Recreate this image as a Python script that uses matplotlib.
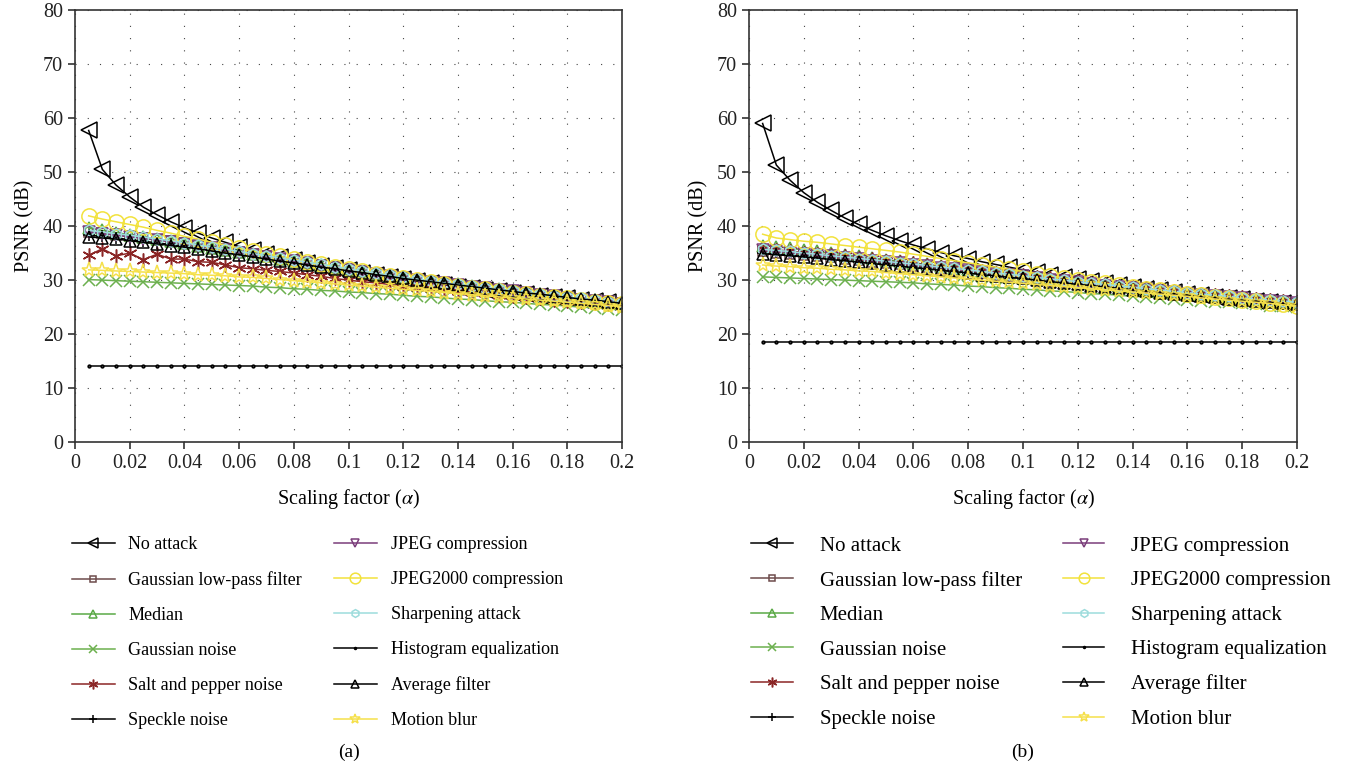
import matplotlib
matplotlib.use("Agg")
import matplotlib.pyplot as plt
from matplotlib.ticker import FormatStrFormatter

plt.rcParams['font.family'] = ['Liberation Serif', 'DejaVu Serif']
plt.rcParams['mathtext.fontset'] = 'stix'

# ==========================================
# DATA
# ==========================================
alpha = [0.005, 0.01, 0.015, 0.02, 0.025, 0.03, 0.035, 0.04, 0.045, 0.05,
         0.055, 0.06, 0.065, 0.07, 0.075, 0.08, 0.085, 0.09, 0.095, 0.1,
         0.105, 0.11, 0.115, 0.12, 0.125, 0.13, 0.135, 0.14, 0.145, 0.15,
         0.155, 0.16, 0.165, 0.17, 0.175, 0.18, 0.185, 0.19, 0.195, 0.2]

attack_names = ["No attack", "Gaussian low-pass filter", "Median", "Gaussian noise",
                "Salt and pepper noise", "Speckle noise", "JPEG compression",
                "JPEG2000 compression", "Sharpening attack", "Histogram equalization",
                "Average filter", "Motion blur"]

# ---- panel (a) ----
a_no_attack = [57.7, 50.5, 47.6, 45.4, 43.5, 42.1, 40.8, 39.7, 38.7, 37.8,
               37.0, 36.2, 35.5, 34.9, 34.3, 33.7, 33.2, 32.7, 32.2, 31.8,
               31.3, 30.9, 30.5, 30.2, 29.8, 29.5, 29.1, 28.8, 28.5, 28.2,
               27.9, 27.7, 27.4, 27.1, 26.9, 26.7, 26.4, 26.2, 26.0, 25.8]
a_gauss_lpf = [39.0, 38.7, 38.4, 38.1, 37.8, 37.5, 37.2, 36.8, 36.4, 36.0,
               35.6, 35.2, 34.8, 34.4, 34.0, 33.6, 33.2, 32.8, 32.4, 32.0,
               31.6, 31.2, 30.8, 30.4, 30.1, 29.7, 29.4, 29.1, 28.8, 28.5,
               28.2, 27.9, 27.6, 27.3, 27.0, 26.7, 26.5, 26.2, 25.9, 25.7]
a_median = [39.6, 39.2, 38.8, 38.4, 38.0, 37.6, 37.2, 36.8, 36.4, 36.0,
            35.6, 35.2, 34.8, 34.4, 34.0, 33.6, 33.2, 32.8, 32.4, 32.0,
            31.6, 31.2, 30.8, 30.5, 30.1, 29.8, 29.5, 29.2, 28.9, 28.6,
            28.3, 28.0, 27.7, 27.4, 27.1, 26.8, 26.5, 26.3, 26.0, 25.8]
a_gauss_noise = [30.1, 30.0, 29.9, 29.8, 29.7, 29.6, 29.5, 29.4, 29.3, 29.2,
                 29.1, 29.0, 28.9, 28.7, 28.6, 28.4, 28.3, 28.1, 28.0, 27.8,
                 27.7, 27.5, 27.4, 27.2, 27.0, 26.9, 26.7, 26.5, 26.4, 26.2,
                 26.0, 25.9, 25.7, 25.5, 25.4, 25.2, 25.0, 24.9, 24.7, 24.5]
a_salt_pepper = [34.6, 35.8, 34.5, 35.0, 33.8, 34.8, 33.9, 33.9, 33.4, 33.3,
                 32.8, 32.3, 32.1, 31.8, 31.6, 31.3, 31.0, 30.7, 30.3, 30.0,
                 29.7, 29.5, 29.2, 28.9, 28.7, 28.5, 28.3, 28.0, 27.8, 27.6,
                 27.3, 27.1, 26.9, 26.7, 26.4, 26.2, 26.0, 25.8, 25.6, 25.4]
a_speckle = [38.3, 38.1, 37.8, 37.5, 37.2, 36.9, 36.6, 36.3, 35.9, 35.5,
             35.1, 34.7, 34.3, 33.9, 33.5, 33.1, 32.7, 32.3, 31.9, 31.6,
             31.2, 30.8, 30.5, 30.1, 29.8, 29.5, 29.2, 28.9, 28.6, 28.3,
             28.0, 27.7, 27.4, 27.1, 26.8, 26.6, 26.3, 26.0, 25.8, 25.5]
a_jpeg = [38.9, 38.6, 38.3, 38.0, 37.7, 37.4, 37.1, 36.7, 36.3, 35.9,
          35.5, 35.1, 34.7, 34.3, 33.9, 33.5, 33.1, 32.7, 32.3, 31.9,
          31.5, 31.1, 30.7, 30.4, 30.0, 29.7, 29.4, 29.1, 28.8, 28.5,
          28.2, 27.9, 27.6, 27.3, 27.0, 26.7, 26.4, 26.2, 25.9, 25.6]
a_jpeg2000 = [41.9, 41.3, 40.8, 40.3, 39.8, 39.2, 38.7, 38.1, 37.6, 37.0,
              36.5, 35.9, 35.4, 34.9, 34.4, 33.9, 33.4, 33.0, 32.5, 32.1,
              31.6, 31.2, 30.8, 30.4, 30.0, 29.7, 29.3, 29.0, 28.6, 28.3,
              28.0, 27.7, 27.4, 27.1, 26.8, 26.6, 26.3, 26.0, 25.8, 25.5]
a_sharpening = [39.2, 38.9, 38.6, 38.3, 38.0, 37.6, 37.3, 36.9, 36.5, 36.1,
                35.7, 35.3, 34.9, 34.5, 34.1, 33.7, 33.3, 32.9, 32.5, 32.1,
                31.7, 31.3, 30.9, 30.5, 30.2, 29.8, 29.5, 29.2, 28.9, 28.6,
                28.3, 28.0, 27.7, 27.4, 27.1, 26.8, 26.6, 26.3, 26.0, 25.8]
a_hist_eq = [14.1] * len(alpha)
a_average = [38.0, 37.8, 37.6, 37.3, 37.0, 36.7, 36.4, 36.1, 35.8, 35.4,
             35.0, 34.7, 34.3, 33.9, 33.5, 33.2, 32.8, 32.4, 32.1, 31.7,
             31.4, 31.0, 30.7, 30.3, 30.0, 29.7, 29.4, 29.1, 28.8, 28.5,
             28.2, 27.9, 27.6, 27.4, 27.1, 26.8, 26.5, 26.3, 26.0, 25.7]
a_motion_blur = [31.9, 31.8, 31.7, 31.6, 31.5, 31.4, 31.3, 31.2, 31.0, 30.9,
                 30.8, 30.6, 30.5, 30.3, 30.1, 29.9, 29.7, 29.5, 29.3, 29.1,
                 28.9, 28.7, 28.5, 28.3, 28.1, 27.9, 27.7, 27.5, 27.3, 27.1,
                 26.9, 26.7, 26.5, 26.3, 26.1, 25.9, 25.7, 25.5, 25.3, 25.1]

# ---- panel (b) ----
b_no_attack = [59.0, 51.3, 48.5, 46.2, 44.4, 42.9, 41.5, 40.3, 39.2, 38.2,
               37.3, 36.5, 35.8, 35.1, 34.5, 34.0, 33.4, 32.9, 32.4, 31.9,
               31.5, 31.0, 30.6, 30.2, 29.8, 29.4, 29.1, 28.7, 28.4, 28.1,
               27.8, 27.5, 27.2, 26.9, 26.7, 26.5, 26.2, 26.0, 25.8, 25.6]
b_gauss_lpf = [35.3, 35.1, 34.9, 34.7, 34.4, 34.2, 33.9, 33.7, 33.4, 33.2,
               32.9, 32.6, 32.4, 32.1, 31.8, 31.6, 31.3, 31.0, 30.7, 30.5,
               30.2, 29.9, 29.6, 29.4, 29.1, 28.8, 28.6, 28.3, 28.1, 27.8,
               27.6, 27.3, 27.1, 26.8, 26.6, 26.4, 26.1, 25.9, 25.7, 25.5]
b_median = [36.4, 36.2, 35.9, 35.6, 35.3, 35.0, 34.7, 34.4, 34.1, 33.8,
            33.5, 33.2, 32.9, 32.6, 32.3, 32.0, 31.7, 31.4, 31.1, 30.9,
            30.6, 30.3, 30.0, 29.8, 29.5, 29.2, 29.0, 28.7, 28.5, 28.2,
            28.0, 27.7, 27.5, 27.2, 27.0, 26.8, 26.5, 26.3, 26.1, 25.9]
b_gauss_noise = [30.6, 30.5, 30.4, 30.3, 30.2, 30.1, 30.0, 29.9, 29.8, 29.7,
                 29.6, 29.5, 29.3, 29.2, 29.1, 28.9, 28.8, 28.6, 28.5, 28.3,
                 28.2, 28.0, 27.9, 27.7, 27.5, 27.4, 27.2, 27.0, 26.9, 26.7,
                 26.5, 26.4, 26.2, 26.0, 25.9, 25.7, 25.5, 25.3, 25.2, 25.0]
b_salt_pepper = [35.8, 35.6, 35.4, 35.1, 34.9, 34.6, 34.4, 34.1, 33.9, 33.6,
                 33.3, 33.1, 32.8, 32.5, 32.3, 32.0, 31.7, 31.4, 31.2, 30.9,
                 30.6, 30.3, 30.0, 29.8, 29.5, 29.2, 29.0, 28.7, 28.5, 28.2,
                 28.0, 27.7, 27.5, 27.2, 27.0, 26.8, 26.5, 26.3, 26.1, 25.9]
b_speckle = [35.0, 34.8, 34.6, 34.4, 34.1, 33.9, 33.6, 33.4, 33.1, 32.9,
             32.6, 32.4, 32.1, 31.9, 31.6, 31.4, 31.1, 30.8, 30.6, 30.3,
             30.0, 29.8, 29.5, 29.3, 29.0, 28.7, 28.5, 28.2, 28.0, 27.7,
             27.5, 27.2, 27.0, 26.8, 26.5, 26.3, 26.1, 25.9, 25.6, 25.4]
b_jpeg = [35.5, 35.3, 35.1, 34.9, 34.6, 34.4, 34.1, 33.9, 33.6, 33.4,
          33.1, 32.8, 32.6, 32.3, 32.0, 31.8, 31.5, 31.2, 30.9, 30.7,
          30.4, 30.1, 29.8, 29.6, 29.3, 29.0, 28.8, 28.5, 28.3, 28.0,
          27.8, 27.5, 27.3, 27.0, 26.8, 26.6, 26.3, 26.1, 25.9, 25.7]
b_jpeg2000 = [38.5, 37.8, 37.5, 37.2, 37.0, 36.7, 36.4, 36.1, 35.8, 35.5,
              35.2, 34.8, 34.4, 34.0, 33.6, 33.2, 32.8, 32.4, 32.0, 31.6,
              31.2, 30.8, 30.4, 30.1, 29.7, 29.4, 29.1, 28.7, 28.4, 28.1,
              27.8, 27.5, 27.2, 26.9, 26.6, 26.4, 26.1, 25.8, 25.6, 25.3]
b_sharpening = [35.7, 35.5, 35.3, 35.0, 34.8, 34.5, 34.3, 34.0, 33.8, 33.5,
                33.2, 33.0, 32.7, 32.4, 32.2, 31.9, 31.6, 31.3, 31.1, 30.8,
                30.5, 30.2, 30.0, 29.7, 29.4, 29.2, 28.9, 28.7, 28.4, 28.2,
                27.9, 27.7, 27.4, 27.2, 27.0, 26.7, 26.5, 26.3, 26.1, 25.9]
b_hist_eq = [18.5] * len(alpha)
b_average = [34.9, 34.7, 34.5, 34.3, 34.1, 33.8, 33.6, 33.3, 33.1, 32.8,
             32.6, 32.3, 32.1, 31.8, 31.6, 31.3, 31.0, 30.8, 30.5, 30.3,
             30.0, 29.7, 29.5, 29.2, 29.0, 28.7, 28.5, 28.2, 28.0, 27.7,
             27.5, 27.2, 27.0, 26.8, 26.5, 26.3, 26.1, 25.9, 25.7, 25.5]
b_motion_blur = [32.8, 32.6, 32.5, 32.3, 32.2, 32.0, 31.9, 31.7, 31.6, 31.4,
                 31.2, 31.0, 30.8, 30.6, 30.4, 30.2, 30.0, 29.8, 29.6, 29.4,
                 29.2, 29.0, 28.8, 28.6, 28.4, 28.2, 28.0, 27.8, 27.6, 27.4,
                 27.2, 27.0, 26.7, 26.5, 26.3, 26.1, 25.9, 25.7, 25.4, 25.2]

panel_a = [a_no_attack, a_gauss_lpf, a_median, a_gauss_noise, a_salt_pepper, a_speckle,
           a_jpeg, a_jpeg2000, a_sharpening, a_hist_eq, a_average, a_motion_blur]
panel_b = [b_no_attack, b_gauss_lpf, b_median, b_gauss_noise, b_salt_pepper, b_speckle,
           b_jpeg, b_jpeg2000, b_sharpening, b_hist_eq, b_average, b_motion_blur]

# (color, marker, markersize)
styles = [
    ("black",   "<",       11),
    ("#6e4c4c", "s",       7),
    ("#5aaa46", "^",       8),
    ("#6cb04e", "x",       8),
    ("#8b2626", (6, 2, 0), 10),
    ("black",   "+",       9),
    ("#7a3d7a", "v",       8),
    ("#f2e23c", "o",       11),
    ("#9ddcdc", "h",       8),
    ("black",   ".",       4),
    ("black",   "^",       8),
    ("#f5e04a", "*",       11),
]


def draw_panel(ax, series, tag, leg):
    for name, ys, (col, mk, ms) in zip(attack_names, series, styles):
        ax.plot(alpha, ys, color=col, lw=1.1, marker=mk, markersize=ms,
                markerfacecolor="none", markeredgecolor=col, markeredgewidth=1.1,
                label=name)

    ax.set_xlim(0, 0.2)
    ax.set_ylim(0, 80)
    ax.set_xticks([0, 0.02, 0.04, 0.06, 0.08, 0.1, 0.12, 0.14, 0.16, 0.18, 0.2])
    ax.set_yticks(range(0, 81, 10))
    ax.xaxis.set_major_formatter(FormatStrFormatter('%g'))
    ax.grid(True, color="#444444", lw=0.8, linestyle=(0, (1, 10)))
    ax.tick_params(direction="out", length=5, width=1.1, labelsize=14.5, colors="#222222")
    for s in ax.spines.values():
        s.set_linewidth(1.2)
        s.set_color("#333333")
    ax.set_xlabel(r"Scaling factor ($\alpha$)", fontsize=14.5, labelpad=10)
    ax.set_ylabel("PSNR (dB)", fontsize=14.5, labelpad=6)

    ax.legend(loc="upper left", bbox_to_anchor=(leg["x"], leg["y"]),
              bbox_transform=fig.transFigure, ncol=2, frameon=False,
              fontsize=leg["fs"], handlelength=leg["hl"], handletextpad=leg["pad"],
              labelspacing=leg["ls"], columnspacing=leg["cs"], borderpad=0,
              markerscale=0.7)
    pos = ax.get_position()
    fig.text((pos.x0 + pos.x1) / 2, 0.027, tag, ha="center", va="center", fontsize=14)


fig = plt.figure(figsize=(13.59, 7.73), dpi=100)
ax_a = fig.add_axes([0.0552, 0.428, 0.4025, 0.559])
ax_b = fig.add_axes([0.5511, 0.428, 0.4033, 0.559])

draw_panel(ax_a, panel_a, "(a)", dict(x=0.046, y=0.318, fs=13, hl=2.4, pad=0.75, ls=1.0, cs=1.75))
draw_panel(ax_b, panel_b, "(b)", dict(x=0.545, y=0.320, fs=15, hl=2.0, pad=1.3, ls=0.72, cs=1.95))

fig.savefig("out.png", dpi=100)
